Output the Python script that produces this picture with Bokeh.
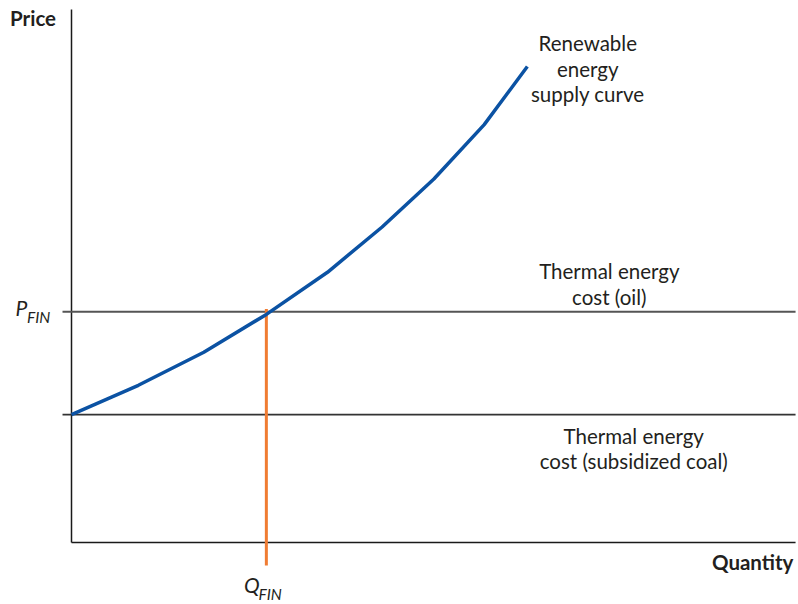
from bokeh.plotting import figure
from bokeh.models import Range1d
from bokeh.embed import file_html
from bokeh.resources import INLINE
from bokeh.core.properties import value

# ---- data (arbitrary units: quantity 0..100, price 0..100) ----
supply_q = [0.0, 9.3, 18.4, 27.1, 35.6, 43.2, 50.4, 57.4, 63.4]
supply_p = [24.0, 29.5, 35.7, 42.8, 50.7, 59.2, 68.2, 78.4, 89.3]
p_fin = 43.3          # thermal energy cost (oil)
p_coal = 24.0         # thermal energy cost (subsidized coal)
q_fin = 27.1
q_max = 100.7
p_max = 100.0

renew_lines = ["Renewable", "energy", "supply curve"]
renew_x = [71.8, 71.8, 71.8]
renew_y = [93.8, 88.9, 84.2]
oil_lines = ["Thermal energy", "cost (oil)"]
oil_x = [74.8, 74.8]
oil_y = [51.0, 46.1]
coal_lines = ["Thermal energy", "cost (subsidized coal)"]
coal_x = [78.2, 78.2]
coal_y = [19.9, 15.2]

FONT = "Lato"
TXT = "#231f20"

p = figure(width=798, height=604, output_backend="svg", toolbar_location=None,
           x_range=Range1d(-9.875, 101.11), y_range=Range1d(-11.63, 101.69),
           min_border=0)
p.axis.visible = False
p.outline_line_color = None
p.grid.visible = False
p.background_fill_color = "white"
p.border_fill_color = "white"

# axis lines
p.segment(x0=[0, 0], y0=[0, 0], x1=[0, q_max], y1=[p_max, 0],
          line_color="#1a1a1a", line_width=1.5)
# thermal cost lines (with tick stubs left of the axis)
p.segment(x0=[-1.25, -1.25], y0=[p_fin, p_coal], x1=[q_max, q_max], y1=[p_fin, p_coal],
          line_color=["#555555", "#333333"], line_width=[2, 1.6])
# Q_FIN line (with stub below the axis)
p.segment(x0=[q_fin], y0=[-4.3], x1=[q_fin], y1=[p_fin + 0.5],
          line_color="#f07c33", line_width=3)
# supply curve
p.line(supply_q, supply_p, line_color="#0b52a3", line_width=3.5, line_join="round")

# curve / line labels
for xs, ys, ts in ((renew_x, renew_y, renew_lines), (oil_x, oil_y, oil_lines),
                   (coal_x, coal_y, coal_lines)):
    p.text(x=xs, y=ys, text=ts, text_align="center", text_baseline="alphabetic",
           text_font=value(FONT), text_font_size="20.5px", text_color=TXT)

def lab(x, y, t, size, style="normal", align="left"):
    p.text(x=[x], y=[y], text=[t], text_font=value(FONT), text_font_size=size,
           text_font_style=style, text_align=align,
           text_baseline="alphabetic", text_color=TXT)

lab(-8.55, 98.5, "Price", "20.5px", "bold")
lab(100.4, -3.6, "Quantity", "20.5px", "bold", "right")
lab(-7.8, 44.1, "P", "21px", "italic")
lab(-6.2, 42.3, "FIN", "15.5px", "italic")
lab(24.0, -7.9, "Q", "21px", "italic")
lab(26.0, -9.7, "FIN", "15.5px", "italic")

open("out.html", "w").write(file_html(p, INLINE))
